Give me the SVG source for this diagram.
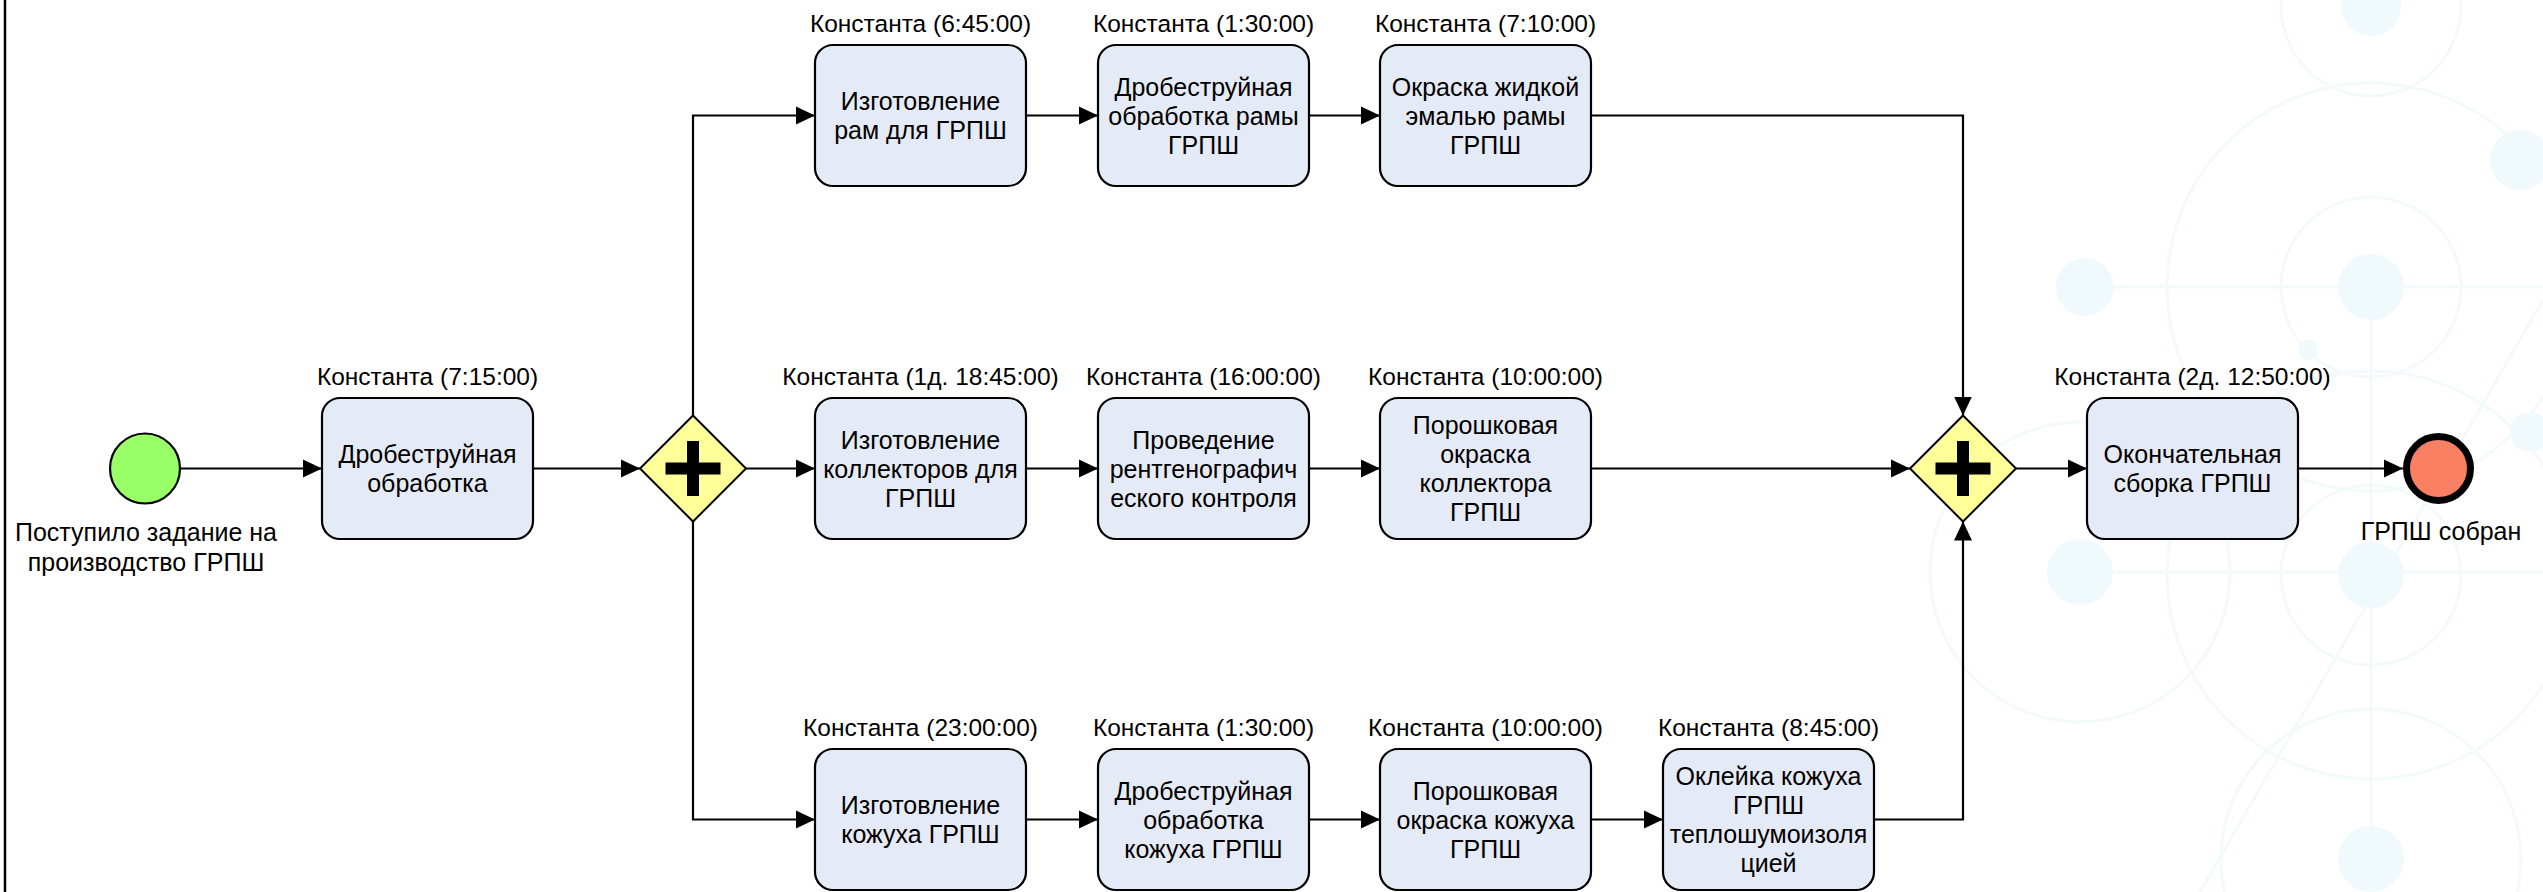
<svg xmlns="http://www.w3.org/2000/svg" width="2543" height="892" viewBox="0 0 2543 892">
<style>
text{font-family:"Liberation Sans",Arial,sans-serif;fill:#000;}
.lbl{font-size:24.5px;text-anchor:middle;}
.tt{font-size:25px;text-anchor:middle;}
.task{fill:#E5EBF6;stroke:#000;stroke-width:2.2;}
.gw{fill:#FFFF99;stroke:#000;stroke-width:2;}
.plus{fill:#000;}
.flow{fill:none;stroke:#000;stroke-width:2.2;marker-end:url(#arr);}
.bgc{fill:none;stroke:#F3FAFC;stroke-width:3;}
.bgb{fill:#F0FAFD;}
</style>
<defs>
<marker id="arr" markerUnits="userSpaceOnUse" markerWidth="20" markerHeight="20" viewBox="0 0 20 20" refX="19" refY="10" orient="auto">
<path d="M0,1 L19,10 L0,19 Z" fill="#000"/>
</marker>
</defs>
<rect x="0" y="0" width="2543" height="892" fill="#fff"/>
<g id="watermark">
<circle class="bgc" cx="2371" cy="287" r="204"/>
<circle class="bgc" cx="2371" cy="575" r="204"/>
<circle class="bgc" cx="2371" cy="287" r="90"/>
<circle class="bgc" cx="2371" cy="575" r="90"/>
<circle class="bgc" cx="2371" cy="859" r="150"/>
<circle class="bgc" cx="2080" cy="572" r="150"/>
<circle class="bgc" cx="2371" cy="6" r="90"/>
<line class="bgc" x1="2085" y1="287" x2="2543" y2="287"/>
<line class="bgc" x1="2080" y1="572" x2="2543" y2="572"/>
<line class="bgc" x1="2371" y1="287" x2="2371" y2="892"/>
<line class="bgc" x1="2200" y1="892" x2="2543" y2="300"/>
<circle class="bgb" cx="2085" cy="287" r="29"/>
<circle class="bgb" cx="2371" cy="287" r="33"/>
<circle class="bgb" cx="2371" cy="6" r="30"/>
<circle class="bgb" cx="2080" cy="572" r="33"/>
<circle class="bgb" cx="2371" cy="575" r="33"/>
<circle class="bgb" cx="2371" cy="859" r="33"/>
<circle class="bgb" cx="2308" cy="350" r="10"/>
<circle class="bgb" cx="2520" cy="160" r="30"/>
<circle class="bgb" cx="2530" cy="432" r="20"/>
</g>
<line x1="5" y1="0" x2="5" y2="892" stroke="#000" stroke-width="2.5"/>
<g id="connectors">
<path class="flow" d="M180,468.5 H322"/>
<path class="flow" d="M533,468.5 H640"/>
<path class="flow" d="M693,415.5 V115.5 H815"/>
<path class="flow" d="M746,468.5 H815"/>
<path class="flow" d="M693,521.5 V819.5 H815"/>
<path class="flow" d="M1026,115.5 H1098"/>
<path class="flow" d="M1309,115.5 H1380"/>
<path class="flow" d="M1591,115.5 H1963 V415.5"/>
<path class="flow" d="M1026,468.5 H1098"/>
<path class="flow" d="M1309,468.5 H1380"/>
<path class="flow" d="M1591,468.5 H1910"/>
<path class="flow" d="M1026,819.5 H1098"/>
<path class="flow" d="M1309,819.5 H1380"/>
<path class="flow" d="M1591,819.5 H1663"/>
<path class="flow" d="M1874,819.5 H1963 V521.5"/>
<path class="flow" d="M2016,468.5 H2087"/>
<path class="flow" d="M2298,468.5 H2403"/>
</g>
<g id="start">
<circle cx="145" cy="468.5" r="35" fill="#99FF66" stroke="#000" stroke-width="2.2"/>
<text class="tt" x="146" y="541">Поступило задание на</text>
<text class="tt" x="146" y="571">производство ГРПШ</text>
</g>
<g id="task1">
<text class="lbl" x="427.5" y="385">Константа (7:15:00)</text>
<rect class="task" x="322" y="398" width="211" height="141" rx="18"/>
<text class="tt" x="427.5" y="463">Дробеструйная</text>
<text class="tt" x="427.5" y="492">обработка</text>
</g>
<g id="gateway1">
<path class="gw" d="M693,415.5 L746,468.5 L693,521.5 L640,468.5 Z"/>
<rect class="plus" x="665.5" y="462.5" width="55" height="12"/>
<rect class="plus" x="687" y="441" width="12" height="55"/>
</g>
<g id="task_top1">
<text class="lbl" x="920.5" y="32">Константа (6:45:00)</text>
<rect class="task" x="815" y="45" width="211" height="141" rx="18"/>
<text class="tt" x="920.5" y="110">Изготовление</text>
<text class="tt" x="920.5" y="139">рам для ГРПШ</text>
</g>
<g id="task_top2">
<text class="lbl" x="1203.5" y="32">Константа (1:30:00)</text>
<rect class="task" x="1098" y="45" width="211" height="141" rx="18"/>
<text class="tt" x="1203.5" y="95.5">Дробеструйная</text>
<text class="tt" x="1203.5" y="124.5">обработка рамы</text>
<text class="tt" x="1203.5" y="153.5">ГРПШ</text>
</g>
<g id="task_top3">
<text class="lbl" x="1485.5" y="32">Константа (7:10:00)</text>
<rect class="task" x="1380" y="45" width="211" height="141" rx="18"/>
<text class="tt" x="1485.5" y="95.5">Окраска жидкой</text>
<text class="tt" x="1485.5" y="124.5">эмалью рамы</text>
<text class="tt" x="1485.5" y="153.5">ГРПШ</text>
</g>
<g id="task_mid1">
<text class="lbl" x="920.5" y="385">Константа (1д. 18:45:00)</text>
<rect class="task" x="815" y="398" width="211" height="141" rx="18"/>
<text class="tt" x="920.5" y="448.5">Изготовление</text>
<text class="tt" x="920.5" y="477.5">коллекторов для</text>
<text class="tt" x="920.5" y="506.5">ГРПШ</text>
</g>
<g id="task_mid2">
<text class="lbl" x="1203.5" y="385">Константа (16:00:00)</text>
<rect class="task" x="1098" y="398" width="211" height="141" rx="18"/>
<text class="tt" x="1203.5" y="448.5">Проведение</text>
<text class="tt" x="1203.5" y="477.5">рентгенографич</text>
<text class="tt" x="1203.5" y="506.5">еского контроля</text>
</g>
<g id="task_mid3">
<text class="lbl" x="1485.5" y="385">Константа (10:00:00)</text>
<rect class="task" x="1380" y="398" width="211" height="141" rx="18"/>
<text class="tt" x="1485.5" y="434">Порошковая</text>
<text class="tt" x="1485.5" y="463">окраска</text>
<text class="tt" x="1485.5" y="492">коллектора</text>
<text class="tt" x="1485.5" y="521">ГРПШ</text>
</g>
<g id="task_bot1">
<text class="lbl" x="920.5" y="736">Константа (23:00:00)</text>
<rect class="task" x="815" y="749" width="211" height="141" rx="18"/>
<text class="tt" x="920.5" y="814">Изготовление</text>
<text class="tt" x="920.5" y="843">кожуха ГРПШ</text>
</g>
<g id="task_bot2">
<text class="lbl" x="1203.5" y="736">Константа (1:30:00)</text>
<rect class="task" x="1098" y="749" width="211" height="141" rx="18"/>
<text class="tt" x="1203.5" y="799.5">Дробеструйная</text>
<text class="tt" x="1203.5" y="828.5">обработка</text>
<text class="tt" x="1203.5" y="857.5">кожуха ГРПШ</text>
</g>
<g id="task_bot3">
<text class="lbl" x="1485.5" y="736">Константа (10:00:00)</text>
<rect class="task" x="1380" y="749" width="211" height="141" rx="18"/>
<text class="tt" x="1485.5" y="799.5">Порошковая</text>
<text class="tt" x="1485.5" y="828.5">окраска кожуха</text>
<text class="tt" x="1485.5" y="857.5">ГРПШ</text>
</g>
<g id="task_bot4">
<text class="lbl" x="1768.5" y="736">Константа (8:45:00)</text>
<rect class="task" x="1663" y="749" width="211" height="141" rx="18"/>
<text class="tt" x="1768.5" y="785">Оклейка кожуха</text>
<text class="tt" x="1768.5" y="814">ГРПШ</text>
<text class="tt" x="1768.5" y="843">теплошумоизоля</text>
<text class="tt" x="1768.5" y="872">цией</text>
</g>
<g id="gateway2">
<path class="gw" d="M1963,415.5 L2016,468.5 L1963,521.5 L1910,468.5 Z"/>
<rect class="plus" x="1935.5" y="462.5" width="55" height="12"/>
<rect class="plus" x="1957" y="441" width="12" height="55"/>
</g>
<g id="task_final">
<text class="lbl" x="2192.5" y="385">Константа (2д. 12:50:00)</text>
<rect class="task" x="2087" y="398" width="211" height="141" rx="18"/>
<text class="tt" x="2192.5" y="463">Окончательная</text>
<text class="tt" x="2192.5" y="492">сборка ГРПШ</text>
</g>
<g id="end">
<circle cx="2438.5" cy="468.5" r="32" fill="#FA8064" stroke="#000" stroke-width="7"/>
<text class="tt" x="2441" y="540">ГРПШ собран</text>
</g>
</svg>
